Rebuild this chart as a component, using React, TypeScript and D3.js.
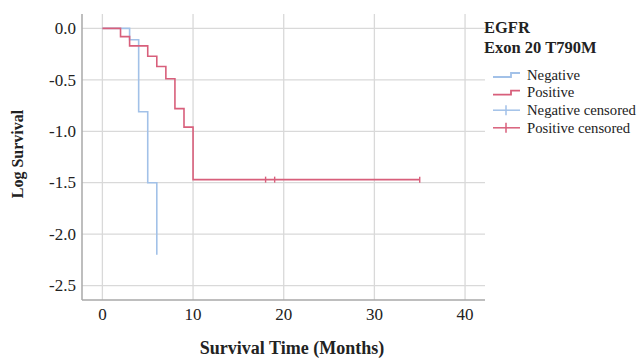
import * as d3 from 'd3';

// step points: [time, log survival]
const negativeSteps: [number, number][] = [
  [0, 0], [3, -0.11], [4, -0.81], [5, -1.5], [6, -2.2],
];
const positiveSteps: [number, number][] = [
  [0, 0], [2, -0.08], [3, -0.17], [5, -0.27], [6, -0.37], [7, -0.49],
  [8, -0.78], [9, -0.96], [10, -1.47],
];
const positiveEnd = 35;
const positiveCensored = [18, 19, 35];

const xTicks = [0, 10, 20, 30, 40];
const yTicks = [0, -0.5, -1, -1.5, -2, -2.5];
const legendItems = ['Negative', 'Positive', 'Negative censored', 'Positive censored'];

const BLUE = '#a2c1e8';
const RED = '#d85f7b';
const FONT = "'Liberation Serif'";

function stepPath(pts: [number, number][], end: number | null, x: d3.ScaleLinear<number, number>, y: d3.ScaleLinear<number, number>) {
  const p = d3.path();
  p.moveTo(x(pts[0][0]), y(pts[0][1]));
  for (let i = 1; i < pts.length; i++) {
    p.lineTo(x(pts[i][0]), y(pts[i - 1][1]));
    p.lineTo(x(pts[i][0]), y(pts[i][1]));
  }
  if (end !== null) p.lineTo(x(end), y(pts[pts.length - 1][1]));
  return p.toString();
}

export default function App() {
  const width = 638;
  const height = 359;
  const left = 82, right = 485, top = 14, bottom = 300;

  const x = d3.scaleLinear().domain([-2.25, 42.2]).range([left, right]);
  const y = d3.scaleLinear().domain([0.14, -2.64]).range([top, bottom]);

  const posLast = positiveSteps[positiveSteps.length - 1][1];
  const txt = { fontFamily: FONT };

  return (
    <svg width={width} height={height} style={{ position: 'absolute', left: 0, top: 0, background: '#fff' }}>
      {/* grid */}
      {yTicks.map(t => (
        <line key={'gy' + t} x1={left} x2={right} y1={y(t)} y2={y(t)} stroke="#d9d9d9" strokeWidth={1.3} />
      ))}
      {xTicks.map(t => (
        <line key={'gx' + t} x1={x(t)} x2={x(t)} y1={top} y2={bottom} stroke="#d9d9d9" strokeWidth={1.3} />
      ))}
      {/* axes */}
      <line x1={left} x2={left} y1={top} y2={bottom} stroke="#a8a8a8" strokeWidth={1.5} />
      <line x1={left} x2={right} y1={bottom} y2={bottom} stroke="#a8a8a8" strokeWidth={1.5} />

      {yTicks.map(t => (
        <text key={'ty' + t} style={txt} x={left - 6} y={y(t)} dy="0.34em" textAnchor="end" fontSize={17} fill="#222">
          {d3.format('.1f')(t).replace('−', '-')}
        </text>
      ))}
      {xTicks.map(t => (
        <text key={'tx' + t} style={txt} x={x(t)} y={320} textAnchor="middle" fontSize={17} fill="#222">{t}</text>
      ))}

      {/* curves */}
      <path d={stepPath(negativeSteps, null, x, y)} fill="none" stroke={BLUE} strokeWidth={1.6} />
      <path d={stepPath(positiveSteps, positiveEnd, x, y)} fill="none" stroke={RED} strokeWidth={1.6} />
      {positiveCensored.map(t => (
        <line key={'c' + t} x1={x(t)} x2={x(t)} y1={y(posLast) - 3} y2={y(posLast) + 3} stroke={RED} strokeWidth={1.4} />
      ))}

      {/* axis titles */}
      <text style={txt} x={292} y={354} textAnchor="middle" fontSize={18} fontWeight="bold" fill="#222">Survival Time (Months)</text>
      <text style={txt} transform="translate(23,154) rotate(-90)" textAnchor="middle" fontSize={16} fontWeight="bold" fill="#222">Log Survival</text>

      {/* legend */}
      <text style={txt} x={484} y={33} fontSize={16.5} fontWeight="bold" fill="#222">EGFR</text>
      <text style={txt} x={484} y={53} fontSize={16.5} fontWeight="bold" fill="#222">Exon 20 T790M</text>
      {legendItems.map((name, i) => {
        const cy = 75 + i * 17.6;
        const color = i % 2 === 0 ? BLUE : RED;
        const censored = i >= 2;
        return (
          <g key={name}>
            {censored ? (
              <>
                <line x1={493} x2={520} y1={cy} y2={cy} stroke={color} strokeWidth={1.5} />
                <line x1={506} x2={506} y1={cy - 5} y2={cy + 5} stroke={color} strokeWidth={1.5} />
              </>
            ) : (
              <path d={`M493,${cy + 2}H511V${cy - 2}H520`} fill="none" stroke={color} strokeWidth={1.8} />
            )}
            <text style={txt} x={527} y={cy} dy="0.32em" fontSize={14.7} fill="#222">{name}</text>
          </g>
        );
      })}
    </svg>
  );
}
